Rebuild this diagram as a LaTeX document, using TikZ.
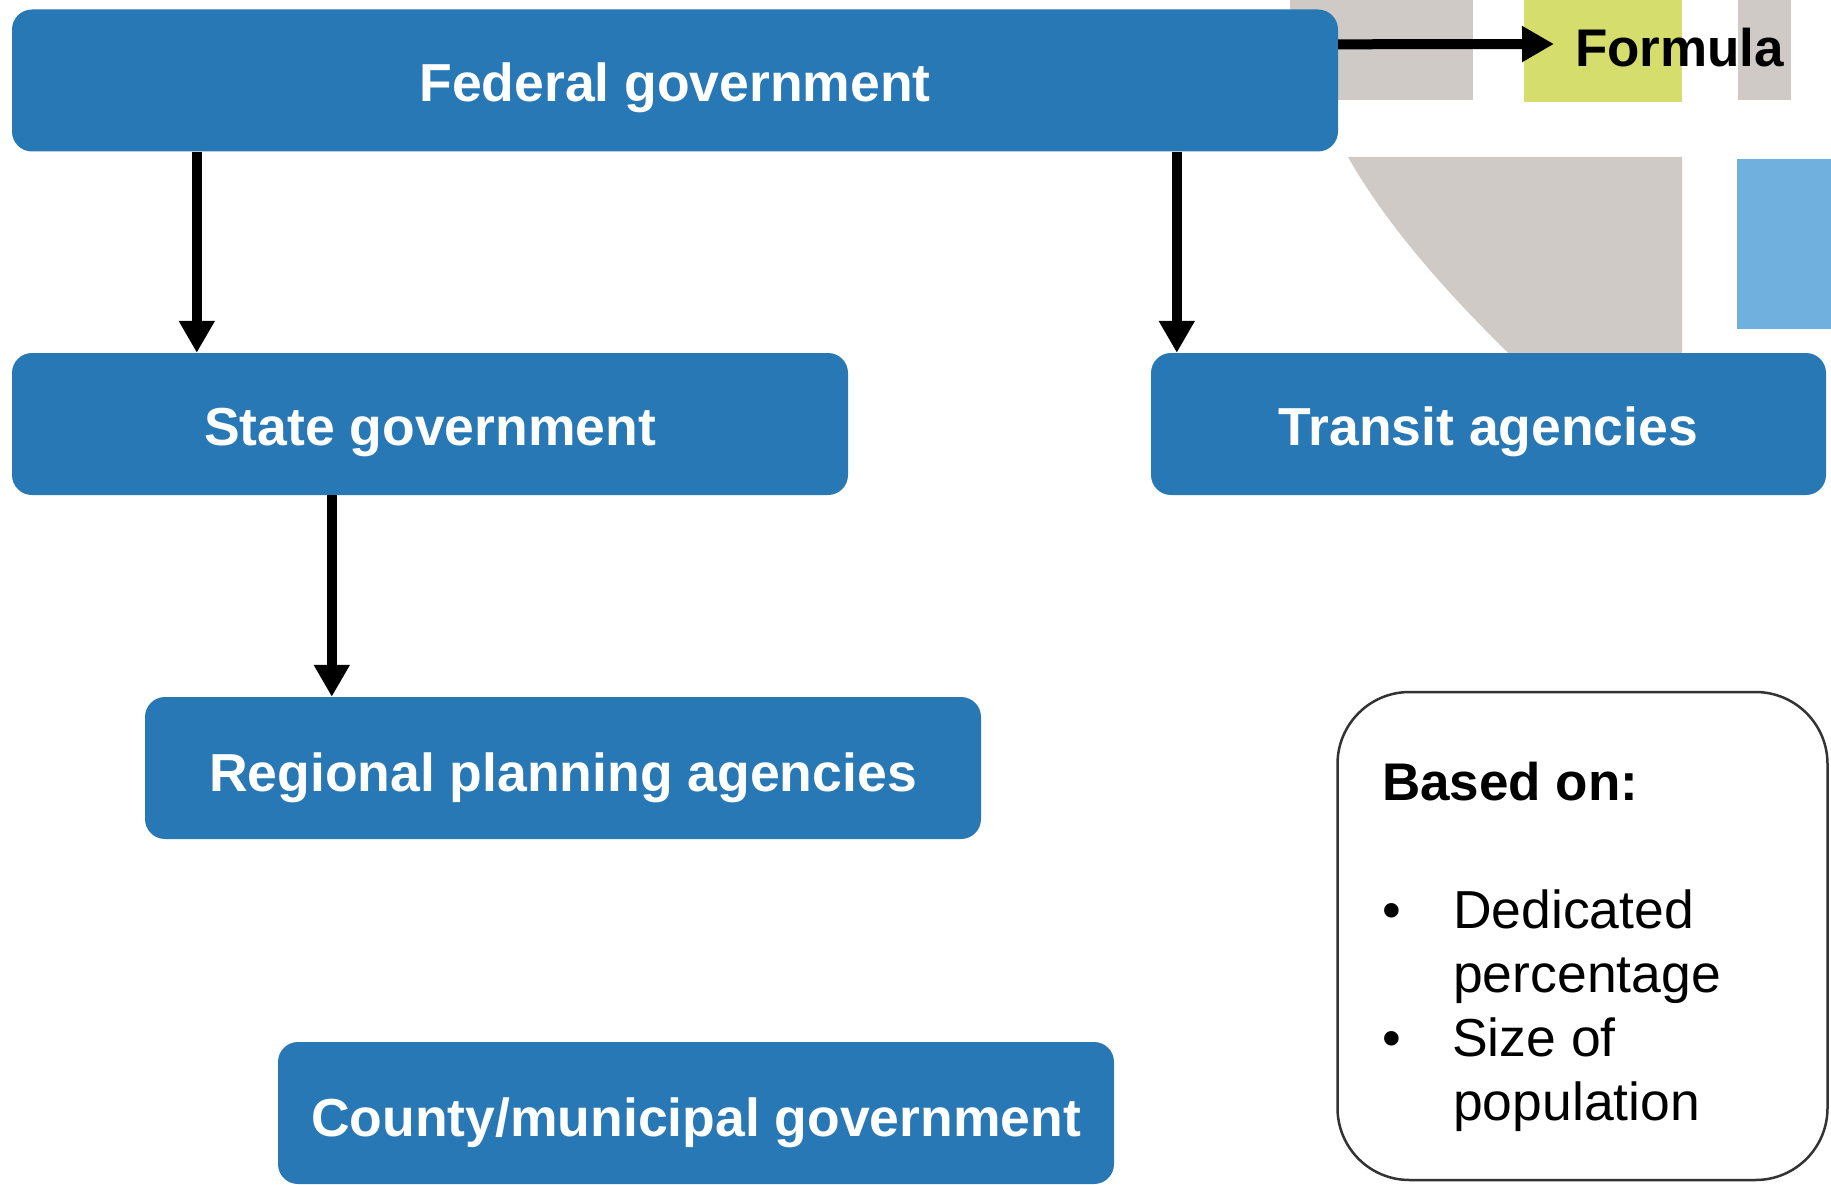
\documentclass[tikz,border=0pt]{standalone}
\usepackage{fontspec}
\setmainfont{Liberation Sans}
\usetikzlibrary{arrows.meta}
\definecolor{boxblue}{HTML}{2878B6}
\definecolor{mapgrey}{HTML}{CFCAC6}
\definecolor{mapyellow}{HTML}{D5DD6C}
\definecolor{mapblue}{HTML}{6FB0DE}
\tikzset{
	govbox/.style={fill=boxblue, rounded corners=20pt, text=white, minimum height=142pt, inner sep=0pt,
		text height=46pt, text depth=0pt,
		font=\fontsize{53.5}{60}\selectfont\bfseries},
	flowline/.style={line width=10pt, black, -{Triangle[length=32pt,width=34pt]}},
	legendtext/.style={anchor=base west, inner sep=0pt, font=\fontsize{53.5}{60}\selectfont}
}
\begin{document}
\begin{tikzpicture}[x=1pt,y=-1pt]
	\useasboundingbox (0,0) rectangle (1831,1185);
	
	% map behind the boxes
	\fill [mapgrey] (1290,0) rectangle (1473,100);
	\fill [mapyellow] (1524,0) rectangle (1682,102);
	\fill [mapgrey] (1738,0) rectangle (1791,100);
	\fill [mapgrey] (1348,157) -- (1682,157) -- (1682,353) -- (1508,353) .. controls (1470,315) and (1395,240) .. cycle;
	\fill [mapblue] (1737,159) rectangle (1831,329);
	
	\node [govbox, text height=42pt, minimum width=1326pt] (federal) at (675,80.5) {Federal government};
	\node [govbox, text height=42pt, minimum width=836pt] (state) at (430,424) {State government};
	\node [govbox, text height=42pt, minimum width=675pt] (transit) at (1488.5,424) {Transit agencies};
	\node [govbox, minimum width=836pt] (regional) at (563,768) {Regional planning agencies};
	\node [govbox, minimum width=836pt] (county) at (696,1113) {County/municipal government};
	
	\node [anchor=base west, inner sep=0pt, outer sep=0pt, font=\fontsize{53}{60}\selectfont\bfseries] (formula) at (1575,67) {Formula};
	\coordinate (fedout) at ([yshift=-35pt]federal.north east);
	\coordinate (formulain) at (1554,44);
	
	\draw [flowline] (fedout) -- (formulain);
	\draw [flowline] ([xshift=185pt]federal.south west) -- ([xshift=185pt]state.north west);
	\draw [flowline] ([xshift=1165pt]federal.south west) -- ([xshift=26pt]transit.north west);
	\draw [flowline] ([xshift=320pt]state.south west) -- ([xshift=187pt]regional.north west);
	
	\node [draw=black!80, line width=2.5pt, rounded corners=72pt, minimum width=490pt, minimum height=488pt, inner sep=0pt] (legend) at (1582.5,936) {};
	\node [legendtext, font=\fontsize{53}{60}\selectfont\bfseries] (basedon) at (1382,800) {Based on:};
	\node [legendtext] (bulleta) at (1382,928) {•};
	\node [legendtext] (dedicated) at (1453,928) {Dedicated};
	\node [legendtext] (percentage) at (1453,992) {percentage};
	\node [legendtext] (bulletb) at (1382,1056) {•};
	\node [legendtext] (sizeof) at (1452,1056) {Size of};
	\node [legendtext] (population) at (1453,1120) {population};
\end{tikzpicture}
\end{document}
